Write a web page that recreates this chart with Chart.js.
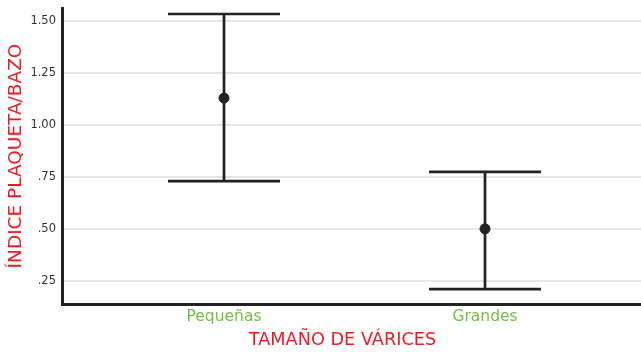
<!DOCTYPE html>
<html lang="es">
<head>
    <meta charset="UTF-8">
    <title>Índice plaqueta/bazo</title>
    <script src="https://cdn.jsdelivr.net/npm/chart.js@4.4.1/dist/chart.umd.min.js"></script>
    <style>
        html, body { margin: 0; padding: 0; background: #fff; overflow: hidden; }
        #wrap { width: 641px; height: 352px; }
    </style>
</head>
<body>
    <div id="wrap"><canvas id="grafico"></canvas></div>

    <script>
        // tamaño de várices: media e intervalo de cada grupo
        var categorias = ["Pequeñas", "Grandes"];
        var medias = [1.13, 0.50];
        var limInferior = [0.73, 0.21];
        var limSuperior = [1.535, 0.775];
        var ticksY = [0.25, 0.50, 0.75, 1.00, 1.25, 1.50];

        var tinta = "#222222";
        var rojo = "#ec1c24";
        var verde = "#76bc43";

        // barras de error con tapas horizontales
        var barrasError = {
            id: "barrasError",
            beforeDatasetsDraw: function (chart) {
                var ctx = chart.ctx;
                var x = chart.scales.x;
                var y = chart.scales.y;
                var medioAncho = 56;
                ctx.save();
                ctx.strokeStyle = tinta;
                ctx.lineWidth = 2.7;
                for (let i = 0; i < categorias.length; i++) {
                    var px = x.getPixelForValue(i);
                    var yBajo = y.getPixelForValue(limInferior[i]);
                    var yAlto = y.getPixelForValue(limSuperior[i]);
                    ctx.beginPath();
                    ctx.moveTo(px, yBajo);
                    ctx.lineTo(px, yAlto);
                    ctx.moveTo(px - medioAncho, yAlto);
                    ctx.lineTo(px + medioAncho, yAlto);
                    ctx.moveTo(px - medioAncho, yBajo);
                    ctx.lineTo(px + medioAncho, yBajo);
                    ctx.stroke();
                }
                ctx.restore();
            }
        };

        // título del eje x, un poco a la izquierda del centro del área
        var tituloX = {
            id: "tituloX",
            afterDraw: function (chart) {
                var ctx = chart.ctx;
                var area = chart.chartArea;
                ctx.save();
                ctx.fillStyle = rojo;
                ctx.font = "17.7px 'DejaVu Sans'";
                ctx.textAlign = "center";
                ctx.textBaseline = "middle";
                ctx.fillText("TAMAÑO DE VÁRICES", (area.left + area.right) / 2 - 9, chart.height - 12);
                ctx.restore();
            }
        };

        new Chart("grafico", {
            type: "scatter",
            data: {
                datasets: [{
                    data: medias.map(function (m, i) { return { x: i, y: m }; }),
                    backgroundColor: tinta,
                    borderColor: tinta,
                    pointRadius: 5,
                    pointHoverRadius: 5
                }]
            },
            plugins: [barrasError, tituloX],
            options: {
                responsive: true,
                maintainAspectRatio: false,
                animation: false,
                layout: {
                    autoPadding: false,
                    padding: { top: 8, right: 0, left: 0, bottom: 0 }
                },
                plugins: {
                    legend: { display: false },
                    tooltip: { enabled: false }
                },
                scales: {
                    x: {
                        type: "linear",
                        min: -0.6207,
                        max: 1.5977,
                        afterFit: function (s) {
                            s.height = 48;
                            s.paddingLeft = 0;
                            s.paddingRight = 0;
                        },
                        afterBuildTicks: function (s) {
                            s.ticks = categorias.map(function (c, i) { return { value: i }; });
                        },
                        grid: { display: false, drawTicks: false },
                        border: { display: true, color: tinta, width: 3 },
                        ticks: {
                            padding: 4,
                            color: verde,
                            font: { family: "DejaVu Sans", size: 15.5 },
                            callback: function (v) { return categorias[v]; }
                        }
                    },
                    y: {
                        min: 0.138,
                        max: 1.564,
                        afterFit: function (s) {
                            s.width = 62;
                            s.paddingTop = 0;
                            s.paddingBottom = 0;
                        },
                        afterBuildTicks: function (s) {
                            s.ticks = ticksY.map(function (v) { return { value: v }; });
                        },
                        grid: { color: "#e6e6e6", lineWidth: 2, drawTicks: false },
                        border: { display: true, color: tinta, width: 3 },
                        ticks: {
                            padding: 6,
                            color: "#333333",
                            font: { family: "DejaVu Sans", size: 11.5 },
                            callback: function (v) { return v.toFixed(2).replace(/^0/, ""); }
                        },
                        title: {
                            display: true,
                            text: "ÍNDICE PLAQUETA/BAZO",
                            color: rojo,
                            font: { family: "DejaVu Sans", size: 18.5 },
                            padding: { top: 5, bottom: 0 }
                        }
                    }
                }
            }
        });
    </script>
</body>
</html>
